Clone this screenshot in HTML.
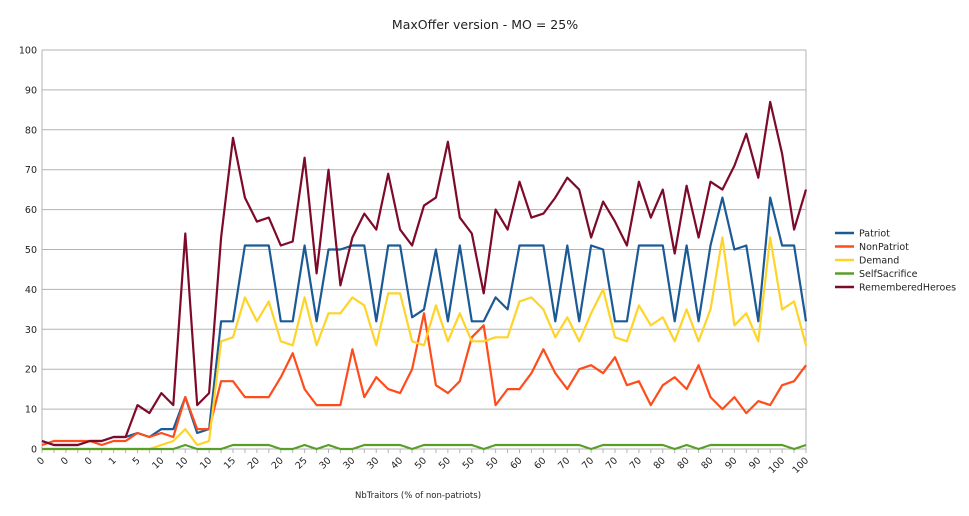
<!DOCTYPE html>
<html><head><meta charset="utf-8"><style>
body{margin:0;background:#fff;font-family:"DejaVu Sans","Liberation Sans",sans-serif;}
svg{display:block}
text{font-family:"DejaVu Sans","Liberation Sans",sans-serif;fill:#222}
</style></head><body>
<svg id="chart" width="969" height="516">
<text x="485" y="29" font-size="12.5" text-anchor="middle">MaxOffer version - MO = 25%</text>
<g id="grid"></g><g id="axes"></g><g id="series"></g><g id="legend"></g>
<text x="418" y="498" font-size="8.5" text-anchor="middle">NbTraitors (% of non-patriots)</text>
</svg>
<script>
const xLabels=["0","0","0","1","5","10","10","10","15","20","20","25","30","30","30","40","50","50","50","50","60","60","70","70","70","70","80","80","80","90","90","100","100"];
const yTicks=[0,10,20,30,40,50,60,70,80,90,100];
const seriesNames=["Patriot","NonPatriot","Demand","SelfSacrifice","RememberedHeroes"];
const seriesColors=["#1c5a96","#ff4c1c","#ffd42a","#5a9e2a","#7e0a2a"];
const patriot=[2,1,1,1,2,2,3,3,4,3,5,5,13,4,5,32,32,51,51,51,32,32,51,32,50,50,51,51,32,51,51,33,35,50,32,51,32,32,38,35,51,51,51,32,51,32,51,50,32,32,51,51,51,32,51,32,51,63,50,51,32,63,51,51,32];
const nonPatriot=[1,2,2,2,2,1,2,2,4,3,4,3,13,5,5,17,17,13,13,13,18,24,15,11,11,11,25,13,18,15,14,20,34,16,14,17,28,31,11,15,15,19,25,19,15,20,21,19,23,16,17,11,16,18,15,21,13,10,13,9,12,11,16,17,21];
const demand=[0,0,0,0,0,0,0,0,0,0,1,2,5,1,2,27,28,38,32,37,27,26,38,26,34,34,38,36,26,39,39,27,26,36,27,34,27,27,28,28,37,38,35,28,33,27,34,40,28,27,36,31,33,27,35,27,35,53,31,34,27,53,35,37,26];
const selfSacrifice=[0,0,0,0,0,0,0,0,0,0,0,0,1,0,0,0,1,1,1,1,0,0,1,0,1,0,0,1,1,1,1,0,1,1,1,1,1,0,1,1,1,1,1,1,1,1,0,1,1,1,1,1,1,0,1,0,1,1,1,1,1,1,1,0,1];
const rememberedHeroes=[2,1,1,1,2,2,3,3,11,9,14,11,54,11,14,53,78,63,57,58,51,52,73,44,70,41,53,59,55,69,55,51,61,63,77,58,54,39,60,55,67,58,59,63,68,65,53,62,57,51,67,58,65,49,66,53,67,65,71,79,68,87,74,55,65];
const allSeries=[patriot,nonPatriot,demand,selfSacrifice,rememberedHeroes];
const NS="http://www.w3.org/2000/svg";
const X0=42,X1=806,Y0=449,Y1=50,N=patriot.length;
const xs=i=>X0+(X1-X0)*i/(N-1);
const ys=v=>Y0-(Y0-Y1)*v/100;
function mk(t,a,p){const e=document.createElementNS(NS,t);for(const k in a)e.setAttribute(k,a[k]);p.appendChild(e);return e;}
const grid=document.getElementById('grid'),axes=document.getElementById('axes'),ser=document.getElementById('series'),leg=document.getElementById('legend');
yTicks.forEach(v=>{
 const l=mk('line',{x1:X0,x2:X1,y1:ys(v),y2:ys(v),stroke:'#b3b3b3','stroke-width':1},grid);
 
 
 const t=mk('text',{x:37,y:ys(v)+3.5,'font-size':9.5,'text-anchor':'end'},axes);
 t.textContent=v;
 
 
});
const ax=mk('line',{x1:X0,x2:X0,y1:Y1,y2:Y0+4,stroke:'#b3b3b3'},axes);


const rx=mk('line',{x1:X1,x2:X1,y1:Y1,y2:Y0,stroke:'#b3b3b3'},axes);


for(let i=0;i<N;i++){
 const tk=mk('line',{x1:xs(i),x2:xs(i),y1:Y0,y2:Y0+4,stroke:'#b3b3b3'},axes);
 
 
}
xLabels.forEach((lab,j)=>{
 const x=xs(j*2),y=Y0+8;
 const t=mk('text',{x:x+3,y:y+4,'font-size':9.5,'text-anchor':'end',transform:`rotate(-45 ${x+3} ${y+4})`},axes);
 t.textContent=lab;
 
 
});
allSeries.forEach((s,k)=>{
 const p=mk('polyline',{points:s.map((v,i)=>xs(i).toFixed(1)+','+ys(v).toFixed(1)).join(' '),fill:'none',stroke:seriesColors[k],'stroke-width':2.2,'stroke-linejoin':'round'},ser);
 
 
 const ly=233+k*13.5;
 const sw=mk('line',{x1:835,x2:854,y1:ly,y2:ly,stroke:seriesColors[k],'stroke-width':2.5},leg);
 
 
 const t=mk('text',{x:859,y:ly+3.5,'font-size':9.5},leg);
 t.textContent=seriesNames[k];
 
 
});
</script>
</body></html>
